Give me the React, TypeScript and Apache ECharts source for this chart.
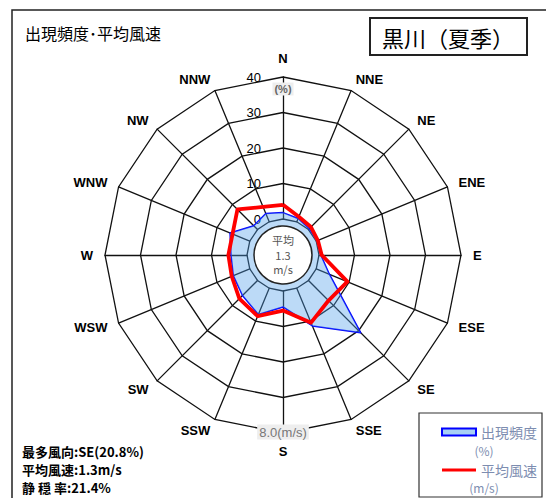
import React, { useEffect, useRef } from 'react';
import * as echarts from 'echarts';

const DIRECTIONS = ['N', 'NNE', 'NE', 'ENE', 'E', 'ESE', 'SE', 'SSE', 'S', 'SSW', 'SW', 'WSW', 'W', 'WNW', 'NW', 'NNW'];
const FREQUENCY = [1.8, 1.0, 0.3, 0.3, 0.5, 4.0, 20.8, 11.5, 4.5, 8.0, 6.0, 5.0, 4.5, 6.0, 1.5, 2.5];
const SPEED = [0.8, 0.3, 0.2, 0.1, 0.15, 1.9, 1.6, 2.1, 1.1, 1.7, 1.45, 1.1, 1.05, 1.05, 1.6, 0.9];
const FREQ_MAX = 40;
const SPEED_MAX = 8;
const TITLE = '出現頻度･平均風速';
const STATION = '黒川（夏季）';
const STATS = ['最多風向:SE(20.8%)', '平均風速:1.3m/s', '静 穏 率:21.4%'];
const CENTER_TEXT = ['平均', '1.3', 'm/s'];
const LEGEND_NAMES = ['出現頻度', '平均風速'];
const LEGEND_UNITS = ['(%)', '(m/s)'];

const CJK = '"Noto Sans CJK JP", "Noto Sans", sans-serif';
const LAT = '"Liberation Sans", Arial, sans-serif';

export default function App() {
  const ref = useRef<HTMLDivElement>(null);
  useEffect(() => {
    const chart = echarts.init(ref.current!, null, { renderer: 'svg' });
    const n = DIRECTIONS.length;
    // radar goes counter-clockwise; reverse order for compass (clockwise)
    const order = DIRECTIONS.map((_, k) => (n - k) % n);
    const cx = 283;
    const cy = 255;
    const radius = [36, 178];

    const option: any = {
      animation: false,
      backgroundColor: '#ffffff',
      legend: {
        orient: 'vertical',
        left: 436,
        top: 419,
        itemWidth: 34,
        itemHeight: 7,
        itemGap: 22,
        selectedMode: false,
        textStyle: { fontSize: 14, lineHeight: 16, color: '#7d8db0', fontFamily: CJK },
        data: [
          { name: LEGEND_NAMES[0], icon: 'rect', itemStyle: { color: '#a8d0f5', borderColor: '#0000ff', borderWidth: 2 } },
          { name: LEGEND_NAMES[1], icon: 'path://M0,0H34V3H0Z', itemStyle: { color: '#ff0000', borderWidth: 0 } },
        ],
      },
      radar: [
        {
          center: [cx, cy],
          radius,
          startAngle: 90,
          shape: 'polygon',
          splitNumber: 4,
          nameGap: 12,
          indicator: order.map((i, k) => ({
            name: DIRECTIONS[i],
            min: 0,
            max: FREQ_MAX,
            ...(k === 0
              ? { axisLabel: { show: true, color: '#000', fontSize: 13, fontFamily: LAT, margin: 4, align: 'right', padding: [0, 18, 0, 0] } }
              : {}),
          })),
          axisName: { color: '#000', fontWeight: 'bold', fontSize: 13, fontFamily: LAT },
          axisLine: { lineStyle: { color: '#111', width: 1.3 } },
          splitLine: { lineStyle: { color: '#111', width: 1.3 } },
          splitArea: { show: false },
          axisTick: { show: false },
          axisLabel: { show: false },
        },
        {
          center: [cx, cy],
          radius,
          startAngle: 90,
          shape: 'polygon',
          splitNumber: 4,
          indicator: order.map((i) => ({ name: DIRECTIONS[i], min: 0, max: SPEED_MAX })),
          axisName: { show: false },
          axisLine: { show: false },
          splitLine: { show: false },
          splitArea: { show: false },
          axisTick: { show: false },
          axisLabel: { show: false },
        },
      ],
      series: [
        {
          type: 'radar',
          radarIndex: 0,
          name: LEGEND_NAMES[0],
          symbol: 'none',
          z: 2,
          lineStyle: { color: '#0000ff', width: 1.5 },
          itemStyle: { color: '#0000ff' },
          areaStyle: { color: 'rgba(80,160,235,0.55)' },
          data: [{ name: LEGEND_NAMES[0], value: order.map((i) => FREQUENCY[i]) }],
        },
        {
          type: 'radar',
          radarIndex: 1,
          name: LEGEND_NAMES[1],
          symbol: 'none',
          z: 3,
          lineStyle: { color: '#ff0000', width: 3.8 },
          itemStyle: { color: '#ff0000' },
          data: [{ name: LEGEND_NAMES[1], value: order.map((i) => SPEED[i]) }],
        },
      ],
      graphic: [
        { type: 'polyline', shape: { points: [[12, 498], [12, 10], [546, 10]] }, style: { stroke: '#222', lineWidth: 1.5, fill: null } },
        { type: 'text', x: 25, y: 33, style: { text: TITLE, fill: '#000', fontSize: 16, fontFamily: CJK, verticalAlign: 'middle' } },
        { type: 'rect', shape: { x: 370, y: 18, width: 157, height: 37 }, style: { stroke: '#222', lineWidth: 2, fill: '#fff' } },
        { type: 'text', x: 448, y: 37, style: { text: STATION, fill: '#000', fontSize: 22, fontFamily: CJK, align: 'center', verticalAlign: 'middle' } },
        ...STATS.map((t, k) => ({
          type: 'text', x: 22, y: 451 + k * 18,
          style: { text: t, fill: '#000', fontSize: 13, lineHeight: 14, fontFamily: CJK, fontWeight: 'bold', verticalAlign: 'middle' },
        })),
        { type: 'rect', shape: { x: 419, y: 413, width: 123, height: 84 }, style: { stroke: '#333', lineWidth: 1.2, fill: null } },
        { type: 'text', x: 484, y: 450, style: { text: LEGEND_UNITS[0], fill: '#7d8db0', fontSize: 12, lineHeight: 13, fontFamily: CJK, align: 'center', verticalAlign: 'middle' } },
        { type: 'text', x: 484, y: 487, style: { text: LEGEND_UNITS[1], fill: '#7d8db0', fontSize: 12, lineHeight: 13, fontFamily: CJK, align: 'center', verticalAlign: 'middle' } },
        { type: 'circle', z: 10, shape: { cx: cx, cy: cy, r: 29 }, style: { fill: '#fff', stroke: '#222', lineWidth: 1.5 } },
        ...CENTER_TEXT.map((t, k) => ({
          type: 'text', z: 11, x: cx, y: cy - 15 + k * 14.5,
          style: { text: t, fill: '#555', fontSize: 11, fontFamily: CJK, align: 'center', verticalAlign: 'middle' },
        })),
        { type: 'text', z: 11, x: cx, y: 89, style: { text: '(%)', fill: '#666', fontSize: 11, fontWeight: 'bold', fontFamily: LAT, align: 'center', verticalAlign: 'middle', backgroundColor: '#eeeeee', padding: [1, 2] } },
        { type: 'text', z: 11, x: cx, y: 432, style: { text: '8.0(m/s)', fill: '#777', fontSize: 13, fontFamily: LAT, align: 'center', verticalAlign: 'middle', backgroundColor: '#eeeeee', padding: [1, 2] } },
      ],
    };
    chart.setOption(option);
    return () => chart.dispose();
  }, []);
  return <div ref={ref} style={{ position: 'absolute', left: 0, top: 0, width: 546, height: 498 }} />;
}
